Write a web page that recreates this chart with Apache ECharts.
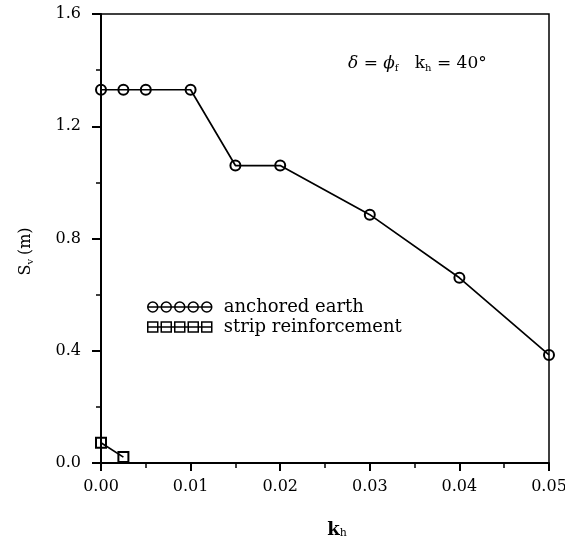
<!DOCTYPE html>
<html>
<head>
<meta charset="utf-8">
<script src="https://cdn.jsdelivr.net/npm/echarts@6/dist/echarts.min.js"></script>
<style>
  html, body { margin: 0; padding: 0; background: #fff; }
  #chartmain { width: 565px; height: 540px; }
</style>
</head>
<body>
<div id="chartmain"></div>
<script>
// data
var kh_anchored = [0, 0.0025, 0.005, 0.01, 0.015, 0.02, 0.03, 0.04, 0.05];
var sv_anchored = [1.33, 1.33, 1.33, 1.33, 1.06, 1.06, 0.885, 0.66, 0.385];
var kh_strip = [0, 0.0025];
var sv_strip = [0.072, 0.021];
var seriesNames = ['anchored earth', 'strip reinforcement'];

var serif = 'DejaVu Serif';

function pairs(xs, ys) {
    return xs.map(function (x, i) { return [x, ys[i]]; });
}

// legend icons: a row of five markers on a line
var circlesIcon = 'path://M0 5L64 5' +
    'M0 5a5 5 0 1 0 10 0a5 5 0 1 0 -10 0' +
    'M13.5 5a5 5 0 1 0 10 0a5 5 0 1 0 -10 0' +
    'M27 5a5 5 0 1 0 10 0a5 5 0 1 0 -10 0' +
    'M40.5 5a5 5 0 1 0 10 0a5 5 0 1 0 -10 0' +
    'M54 5a5 5 0 1 0 10 0a5 5 0 1 0 -10 0';
var squaresIcon = 'path://M0 5L64 5' +
    'M0 0h10v10h-10Z' +
    'M13.5 0h10v10h-10Z' +
    'M27 0h10v10h-10Z' +
    'M40.5 0h10v10h-10Z' +
    'M54 0h10v10h-10Z';

var option = {
    animation: false,
    backgroundColor: '#fff',
    textStyle: { fontFamily: serif, color: '#000' },
    grid: {
        left: 101, right: 16, top: 14, bottom: 77,
        outerBoundsMode: 'none',
        show: true, borderColor: '#000', borderWidth: 1.5
    },
    legend: {
        orient: 'vertical',
        left: 142, top: 293,
        itemWidth: 64, itemHeight: 10, itemGap: 2,
        itemStyle: { color: 'rgba(0,0,0,0)', borderColor: '#000', borderWidth: 1.5 },
        textStyle: { fontFamily: serif, fontSize: 18, color: '#000', lineHeight: 18, padding: [0, 0, 0, 7] },
        data: [
            { name: seriesNames[0], icon: circlesIcon },
            { name: seriesNames[1], icon: squaresIcon }
        ]
    },
    xAxis: {
        type: 'value', min: 0, max: 0.05, interval: 0.01,
        name: '{k|k}{h|h}', nameLocation: 'middle', nameGap: 57,
        nameTextStyle: {
            padding: [0, 0, 0, 24],
            rich: {
                k: { fontFamily: serif, fontSize: 18, fontWeight: 'bold', color: '#000', verticalAlign: 'bottom' },
                h: { fontFamily: serif, fontSize: 11, color: '#000', padding: [8, 0, 0, 0], verticalAlign: 'bottom' }
            }
        },
        axisLine: { onZero: false, lineStyle: { color: '#000', width: 2 } },
        axisTick: { inside: false, length: 8, lineStyle: { color: '#000', width: 2 } },
        minorTick: { show: true, splitNumber: 2, length: 5, lineStyle: { color: '#000', width: 1.5 } },
        axisLabel: {
            margin: 16, fontFamily: serif, fontSize: 16, color: '#000',
            formatter: function (v) { return v.toFixed(2); }
        },
        splitLine: { show: false }
    },
    yAxis: {
        type: 'value', min: 0, max: 1.6, interval: 0.4,
        name: '{s|S}{v|v} {s|(m)}', nameLocation: 'middle', nameGap: 66,
        nameTextStyle: {
            padding: [0, 26, 0, 0],
            rich: {
                s: { fontFamily: serif, fontSize: 16, color: '#000' },
                v: { fontFamily: serif, fontSize: 10, color: '#000', padding: [8, 0, 0, 0] }
            }
        },
        axisLine: { onZero: false, lineStyle: { color: '#000', width: 2 } },
        axisTick: { inside: false, length: 9, lineStyle: { color: '#000', width: 2 } },
        minorTick: { show: true, splitNumber: 2, length: 5, lineStyle: { color: '#000', width: 1.5 } },
        axisLabel: {
            margin: 20, fontFamily: serif, fontSize: 16, color: '#000',
            formatter: function (v) { return v.toFixed(1); }
        },
        splitLine: { show: false }
    },
    graphic: [{
        type: 'text',
        left: 348, top: 55,
        style: {
            text: '{i|δ} = {i|ϕ}{sub|f}   k{sub|h} = 40°',
            fontFamily: serif, fontSize: 17, fill: '#000',
            rich: {
                i: { fontFamily: serif, fontSize: 17, fontStyle: 'italic' },
                sub: { fontFamily: serif, fontSize: 10, padding: [9, 0, 0, 0] }
            }
        }
    }],
    series: [{
        name: seriesNames[0],
        type: 'line',
        data: pairs(kh_anchored, sv_anchored),
        symbol: 'circle', symbolSize: 10,
        lineStyle: { color: '#000', width: 1.7 },
        itemStyle: { color: 'rgba(0,0,0,0)', borderColor: '#000', borderWidth: 2 },
        z: 3
    }, {
        name: seriesNames[1],
        type: 'line',
        data: pairs(kh_strip, sv_strip),
        symbol: 'rect', symbolSize: 10,
        lineStyle: { color: '#000', width: 1.7 },
        itemStyle: { color: 'rgba(0,0,0,0)', borderColor: '#000', borderWidth: 2 },
        z: 3
    }]
};

var myChart = echarts.init(document.getElementById('chartmain'));
myChart.setOption(option);
</script>
</body>
</html>
